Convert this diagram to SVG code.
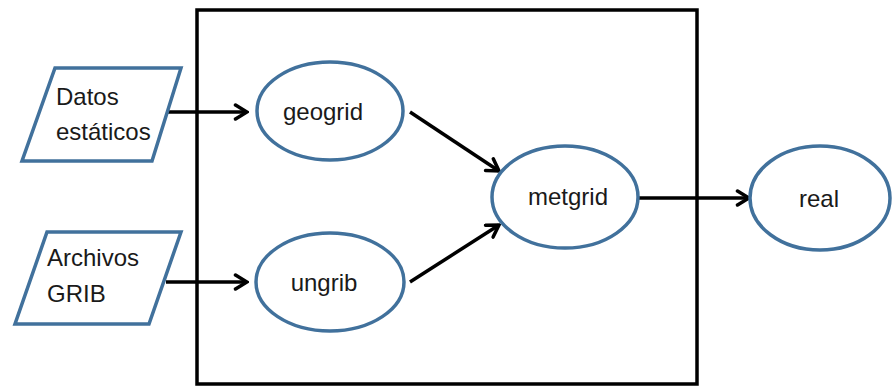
<svg xmlns="http://www.w3.org/2000/svg" width="892" height="387" viewBox="0 0 892 387">
<defs>
<style>
.io{fill:#fff;stroke:#41719C;stroke-width:3.5;stroke-linejoin:miter}
.proc{fill:#fff;stroke:#41719C;stroke-width:3.5}
.lbl{font-family:"Liberation Sans",Arial,sans-serif;font-size:24px;fill:#1a1a1a}
.c{text-anchor:middle}
.edge{stroke:#000;stroke-width:3.5;fill:none}
</style>
<marker id="arr" viewBox="0 0 16 18" refX="14" refY="9" markerUnits="userSpaceOnUse" markerWidth="16" markerHeight="18" orient="auto">
<path d="M2.5,2 L14,9 L2.5,16" fill="none" stroke="#000" stroke-width="3.5" stroke-linecap="round" stroke-linejoin="miter"/>
</marker>
</defs>
<rect width="892" height="387" fill="#fff"/>
<g id="container">
<rect x="197" y="10" width="500" height="374" fill="none" stroke="#000" stroke-width="3.5"/>
</g>
<g id="connectors">
<line class="edge" x1="166" y1="112" x2="247" y2="112" marker-end="url(#arr)"/>
<line class="edge" x1="166" y1="282" x2="247" y2="282" marker-end="url(#arr)"/>
<line class="edge" x1="410" y1="112" x2="499" y2="171" marker-end="url(#arr)"/>
<line class="edge" x1="410" y1="282" x2="499" y2="225" marker-end="url(#arr)"/>
<line class="edge" x1="638" y1="198" x2="749" y2="198" marker-end="url(#arr)"/>
</g>
<g id="datos">
<polygon class="io" points="55,68 181,68 152,161 22,161"/>
<text class="lbl" x="56" y="105">Datos</text>
<text class="lbl" x="56" y="140">estáticos</text>
</g>
<g id="archivos">
<polygon class="io" points="47,232 181,232 149,324 15,324"/>
<text class="lbl" x="47" y="266">Archivos</text>
<text class="lbl" x="47" y="302">GRIB</text>
</g>
<g id="geogrid">
<ellipse class="proc" cx="330" cy="111" rx="73" ry="49"/>
<text class="lbl c" x="323" y="120">geogrid</text>
</g>
<g id="ungrib">
<ellipse class="proc" cx="330" cy="282" rx="74" ry="49"/>
<text class="lbl c" x="324" y="291">ungrib</text>
</g>
<g id="metgrid">
<ellipse class="proc" cx="565" cy="197" rx="73" ry="51"/>
<text class="lbl c" x="568" y="205">metgrid</text>
</g>
<g id="real">
<ellipse class="proc" cx="820" cy="198" rx="70" ry="52"/>
<text class="lbl c" x="819" y="207">real</text>
</g>
</svg>
